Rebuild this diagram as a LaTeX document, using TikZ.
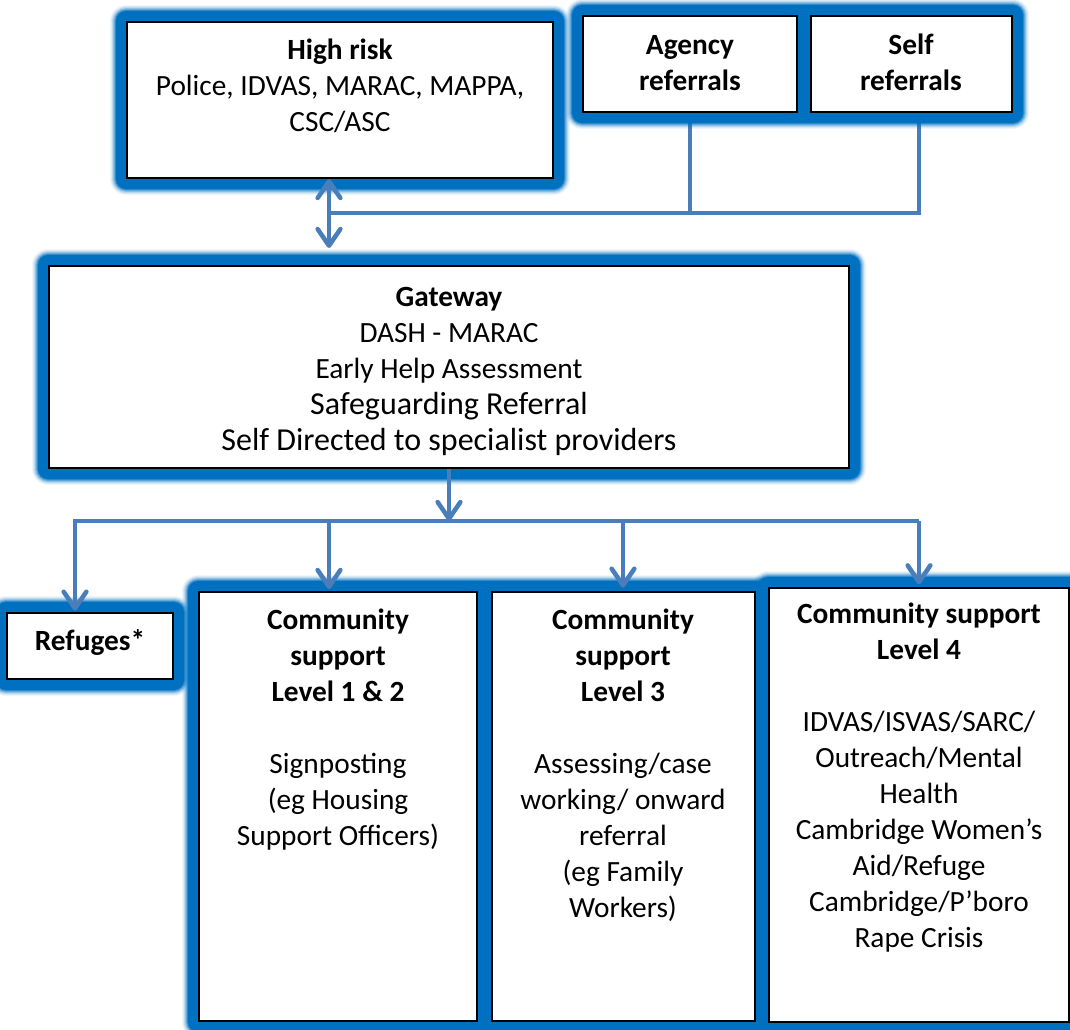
\documentclass[tikz,border=0pt]{standalone}
\usepackage{fontspec}
\setmainfont{Carlito}
\usetikzlibrary{arrows.meta,fit,calc}
\definecolor{glowc}{RGB}{0,112,192}
\definecolor{connc}{RGB}{74,126,187}
\pgfdeclarelayer{under}
\pgfdeclarelayer{glowlayer}
\pgfsetlayers{under,glowlayer,main}
\newcommand\glowbox[2]{%
  \begin{pgfonlayer}{glowlayer}
    \foreach \r/\a in {16/0.06,15/0.085,14/0.14,13/0.22,12/0.31,11/0.5,10/1}{
      \pgfmathsetmacro\rr{\r*0.75}
      \fill[glowc, fill opacity=\a, rounded corners=\rr pt]
        ([xshift=-\rr pt,yshift=\rr pt]#1) rectangle ([xshift=\rr pt,yshift=-\rr pt]#2);
    }
  \end{pgfonlayer}}
\tikzset{
  box/.style={draw=black, line width=1.5pt, fill=white, inner sep=0pt, fit={#1}},
  txt/.style={font=\fontsize{22}{27}\selectfont, align=center, inner sep=0pt, anchor=base},
  txtb/.style={font=\bfseries\fontsize{22}{27}\selectfont, align=center, inner sep=0pt, anchor=base},
  conn/.style={draw=connc, line width=2.5pt},
  tipv/.tip={Straight Barb[length=12.5pt,width=17pt,line width=3.4pt,round]},
  arr/.style={conn, -tipv},
  dblarr/.style={conn, tipv-tipv}
}
\begin{document}
\begin{tikzpicture}[x=0.75pt,y=-0.75pt]
\useasboundingbox (0,0) rectangle (1070,1029);
% boxes
\node[box={(127,22)(553,178)}] (hr) {};
\node[box={(583,16)(797,112)}] (ag) {};
\node[box={(811,16)(1012,112)}] (sf) {};
\node[box={(49,266)(849,468)}] (gw) {};
\node[box={(7,613)(173,679)}] (rf) {};
\node[box={(199,592)(477,1021)}] (l12) {};
\node[box={(492,592)(755,1021)}] (l3) {};
\node[box={(769,588)(1069,1022)}] (l4) {};
% glows
\glowbox{hr.north west}{hr.south east}
\glowbox{ag.north west}{sf.south east}
\glowbox{gw.north west}{gw.south east}
\glowbox{rf.north west}{rf.south east}
\glowbox{l12.north west}{l3.south east}
\glowbox{l4.north west}{l4.south east}
% texts (anchored at the baseline of their last line)
\node[txt] (hrt) at (340,131) {\textbf{High risk}\\Police, IDVAS, MARAC, MAPPA,\\CSC/ASC};
\node[txtb] (agt) at (690,90) {Agency\\referrals};
\node[txtb] (sft) at (911,90) {Self\\referrals};
\node[txt] (gwt) at (449,450) {\textbf{Gateway}\\DASH - MARAC\\Early Help Assessment\\{\fontsize{24}{29}\selectfont Safeguarding Referral}\\{\fontsize{24}{29}\selectfont Self Directed to specialist providers}};
\node[txtb] (rft) at (90,650) {Refuges*};
\node[txt] (l12t) at (338,845) {\textbf{Community}\\\textbf{support}\\\textbf{Level 1 \& 2}\\[27pt]Signposting\\(eg Housing\\Support Officers)};
\node[txt] (l3t) at (623,917) {\textbf{Community}\\\textbf{support}\\\textbf{Level 3}\\[27pt]Assessing/case\\working/ onward\\referral\\(eg Family\\Workers)};
\node[txt] (l4t) at (919,947) {\textbf{Community support}\\\textbf{Level 4}\\[27pt]IDVAS/ISVAS/SARC/\\Outreach/Mental\\Health\\Cambridge Women’s\\Aid/Refuge\\Cambridge/P’boro\\Rape Crisis};
% connectors
\coordinate (j1) at (329,213);
\coordinate (j3) at (919,213);
\coordinate (dbot) at (329,248);
\begin{pgfonlayer}{under}
\draw[conn] (sf.south -| j3) -- (j3) -- (j1);
\draw[conn] (ag.south) -- (ag.south |- j1);
\end{pgfonlayer}
\draw[dblarr] (hr.south -| dbot) -- (dbot);
\coordinate (b0) at (449,521);
\coordinate (bL) at (75,521);
\coordinate (b12) at (329,521);
\coordinate (b3) at (623,521);
\coordinate (bR) at (919,521);
\draw[arr] (gw.south -| b0) -- (b0);
\draw[arr] (bR) -- (bL) -- ([yshift=1pt]rf.north -| bL);
\draw[arr] (b12) -- ([yshift=1.5pt]l12.north -| b12);
\draw[arr] (b3) -- ([yshift=2.5pt]l3.north -| b3);
\draw[arr] (bR) -- ([yshift=2pt]l4.north -| bR);
\end{tikzpicture}
\end{document}
